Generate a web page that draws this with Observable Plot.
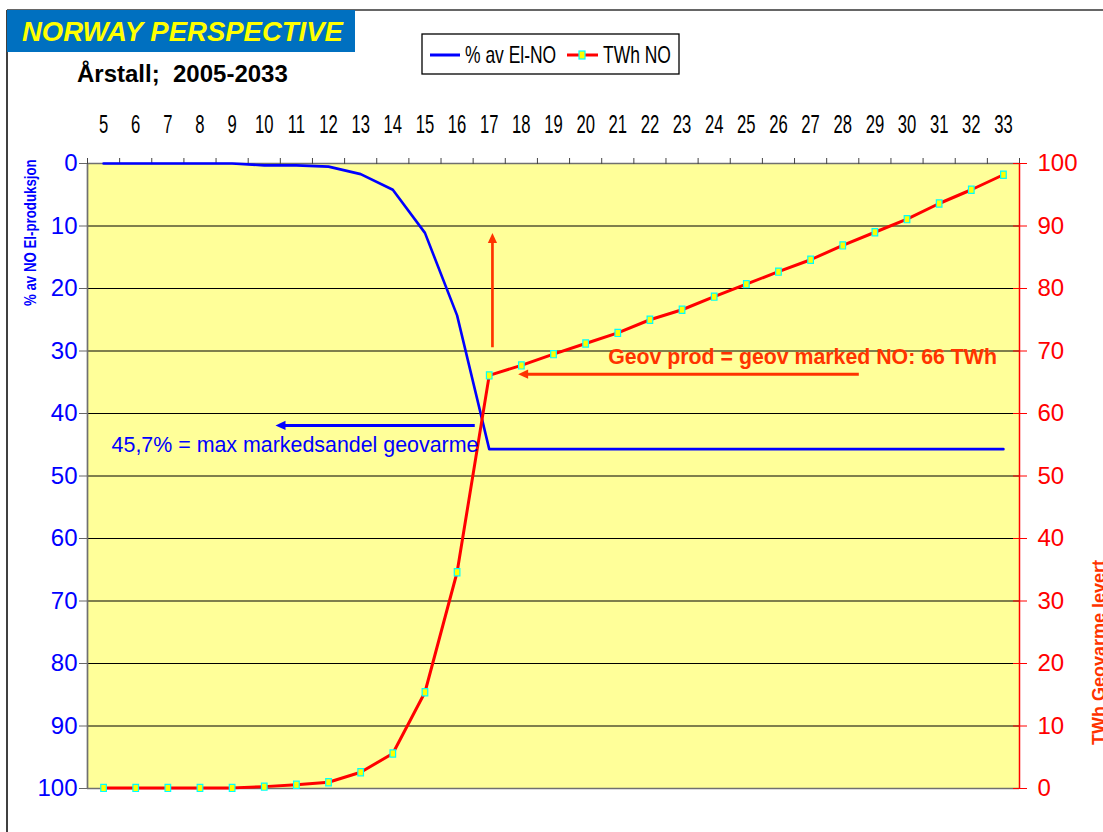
<!DOCTYPE html>
<html><head><meta charset="utf-8">
<script src="https://cdn.jsdelivr.net/npm/d3@7"></script>
<script src="https://cdn.jsdelivr.net/npm/@observablehq/plot@0.6"></script>
<style>
body{margin:0;background:#fff;font-family:Arial,"Liberation Sans",sans-serif;}
#wrap{position:relative;width:1103px;height:832px;overflow:hidden;}
#chart{position:absolute;left:0;top:0;}
#overlay{position:absolute;left:0;top:0;pointer-events:none;}
</style></head><body>
<div id="wrap"><div id="chart"></div>
<svg id="overlay" width="1103" height="832" xmlns="http://www.w3.org/2000/svg" font-family="Arial, 'Liberation Sans', sans-serif">
  <line x1="7" y1="10" x2="1103" y2="10" stroke="#666" stroke-width="2"/>
  <line x1="7" y1="10" x2="7" y2="832" stroke="#000" stroke-width="1.5"/>
  <rect x="7" y="10" width="348" height="42" fill="#0070C0"/>
  <text x="22" y="41" fill="#FFFF00" font-weight="bold" font-style="italic" font-size="27.5">NORWAY PERSPECTIVE</text>
  <text x="77" y="82" fill="#000" font-weight="bold" font-size="24" xml:space="preserve">Årstall;  2005-2033</text>
  <rect x="422" y="34" width="257" height="40" fill="#fff" stroke="#000" stroke-width="1.3"/>
  <line x1="430" y1="55" x2="460" y2="55" stroke="#0000FF" stroke-width="3"/>
  <text transform="translate(465,63) scale(0.76,1)" font-size="23" fill="#000">% av El-NO</text>
  <line x1="567" y1="55" x2="598" y2="55" stroke="#FF0000" stroke-width="3"/>
  <rect x="579" y="51" width="6" height="8" fill="#FFFF00" stroke="#00FFFF" stroke-width="1.2"/>
  <text transform="translate(603,63) scale(0.76,1)" font-size="23" fill="#000">TWh NO</text>
  <text transform="translate(36,306) rotate(-90) scale(0.83,1)" font-size="16" font-weight="bold" fill="#0000FF">% av NO El-produksjon</text>
  <text transform="translate(1105,745) rotate(-90)" font-size="18" font-weight="bold" fill="#FF3300">TWh Geovarme levert</text>
</svg>
</div>
<script>
// ---- data ----
const years = [5,6,7,8,9,10,11,12,13,14,15,16,17,18,19,20,21,22,23,24,25,26,27,28,29,30,31,32,33];
const pctElNO = [0,0,0,0,0,0.3,0.3,0.5,1.7,4.2,11.1,24.3,45.7,45.7,45.7,45.7,45.7,45.7,45.7,45.7,45.7,45.7,45.7,45.7,45.7,45.7,45.7,45.7,45.7];
const twhNO = [0.1,0.1,0.1,0.1,0.1,0.3,0.6,1.0,2.6,5.6,15.4,34.6,66.1,67.7,69.5,71.2,72.9,75.0,76.6,78.7,80.7,82.7,84.6,86.9,89.0,91.1,93.6,95.8,98.2];
const leftTicks = [0,10,20,30,40,50,60,70,80,90,100];
const gridLines = [10,20,30,40,50,60,70,80,90];
// annotations (x in years, y in % for blue, TWh for red)
const redArrowUp = [{x1: 17.1, y1: 70.6, x2: 17.1, y2: 88.9}];
const redArrowLeft = [{x1: 28.5, y1: 66.3, x2: 17.9, y2: 66.3}];
const blueArrowLeft = [{x1: 16.55, y1: 41.9, x2: 10.35, y2: 41.9}];
const redNote = [{x: 20.7, y: 69.0, text: "Geov prod = geov marked NO: 66 TWh"}];
const blueNote = [{x: 5.25, y: 45.1, text: "45,7% = max markedsandel geovarme"}];

const rows = years.map((y, i) => ({year: y, pct: pctElNO[i], twh: twhNO[i]}));
const xEdges = years.map(y => y - 0.5).concat([years[years.length - 1] + 0.5]);
const inv = v => 100 - v;

const markerSymbol = {draw(ctx) { ctx.moveTo(-2.8,-3.6); ctx.lineTo(2.8,-3.6); ctx.lineTo(2.8,3.6); ctx.lineTo(-2.8,3.6); ctx.closePath(); }};
const headSymbol = {draw(ctx) { ctx.moveTo(0,0); ctx.lineTo(4.6,10); ctx.lineTo(-4.6,10); ctx.closePath(); }};
const RED2 = "#FF3300";

const chart = Plot.plot({
  width: 1103, height: 832,
  marginLeft: 87, marginRight: 84, marginTop: 163, marginBottom: 44,
  style: {fontFamily: "Arial, 'Liberation Sans', sans-serif", background: "transparent", overflow: "visible"},
  x: {type: "linear", domain: [xEdges[0], xEdges[xEdges.length - 1]], axis: null, label: null},
  y: {domain: [0, 100], reverse: true, axis: null, label: null},
  marks: [
    Plot.frame({fill: "#FFFF99", stroke: null}),
    Plot.ruleY(gridLines, {stroke: "#000", strokeWidth: 1.2}),
    Plot.ruleY([0, 100], {stroke: "#707070", strokeWidth: 1.7}),
    Plot.ruleX([xEdges[0]], {stroke: "#707070", strokeWidth: 1.7}),
    Plot.ruleX([xEdges[xEdges.length - 1]], {stroke: "#FF0000", strokeWidth: 1.5}),
    Plot.axisX(xEdges, {anchor: "top", tickSize: 6, tickFormat: () => "", color: "#444", label: null}),
    Plot.axisX(years, {anchor: "top", tickSize: 0, tickPadding: 31, fontSize: 26, color: "#000", tickFormat: d => String(d), label: null}),
    Plot.axisY(leftTicks, {anchor: "left", tickSize: 8, tickFormat: () => "", color: "#666", label: null}),
    Plot.axisY(leftTicks, {anchor: "left", tickSize: 0, tickPadding: 10, fontSize: 24, color: "#0000FF", label: null}),
    Plot.axisY(leftTicks, {anchor: "right", tickSize: 7, tickFormat: () => "", color: "#FF0000", label: null}),
    Plot.axisY(leftTicks, {anchor: "right", tickSize: 7, dx: -7, tickFormat: () => "", color: "#FF0000", label: null}),
    Plot.axisY(leftTicks, {anchor: "right", tickSize: 0, tickPadding: 18, fontSize: 24, color: "#FF0000", tickFormat: d => String(100 - d), label: null}),
    Plot.line(rows, {x: "year", y: "pct", stroke: "#0000FF", strokeWidth: 2.6}),
    Plot.line(rows, {x: "year", y: d => inv(d.twh), stroke: "#FF0000", strokeWidth: 3}),
    Plot.dot(rows, {x: "year", y: d => inv(d.twh), symbol: markerSymbol, r: 4, fill: "#FFFF00", stroke: "#00FFFF", strokeWidth: 1.2}),
    // annotations
    Plot.link(redArrowUp, {x1: "x1", x2: "x2", y1: d => inv(d.y1), y2: d => inv(d.y2) + 1.3, stroke: RED2, strokeWidth: 2.7}),
    Plot.dot(redArrowUp, {x: "x2", y: d => inv(d.y2), symbol: headSymbol, r: 5, fill: RED2, stroke: null, rotate: 0}),
    Plot.link(redArrowLeft, {x1: "x1", x2: d => d.x2 + 0.25, y1: d => inv(d.y1), y2: d => inv(d.y2), stroke: RED2, strokeWidth: 3}),
    Plot.dot(redArrowLeft, {x: "x2", y: d => inv(d.y2), symbol: headSymbol, r: 5, fill: RED2, stroke: null, rotate: -90}),
    Plot.link(blueArrowLeft, {x1: "x1", x2: d => d.x2 + 0.25, y1: "y1", y2: "y2", stroke: "#0000FF", strokeWidth: 3}),
    Plot.dot(blueArrowLeft, {x: "x2", y: "y2", symbol: headSymbol, r: 5, fill: "#0000FF", stroke: null, rotate: -90}),
    Plot.text(redNote, {x: "x", y: d => inv(d.y), text: "text", textAnchor: "start", fontSize: 21.3, fontWeight: "bold", fill: RED2}),
    Plot.text(blueNote, {x: "x", y: "y", text: "text", textAnchor: "start", fontSize: 21.4, fill: "#0000FF"})
  ]
});
document.getElementById("chart").appendChild(chart);

// condense top year labels horizontally
const sx = 0.64;
chart.querySelectorAll('g[aria-label="x-axis tick label"] text').forEach(t => {
  const tr = t.getAttribute("transform") || "";
  t.setAttribute("transform", tr + ` scale(${sx},1)`);
  const x = t.getAttribute("x");
  if (x != null) t.setAttribute("x", +x / sx);
});
</script>
</body></html>
